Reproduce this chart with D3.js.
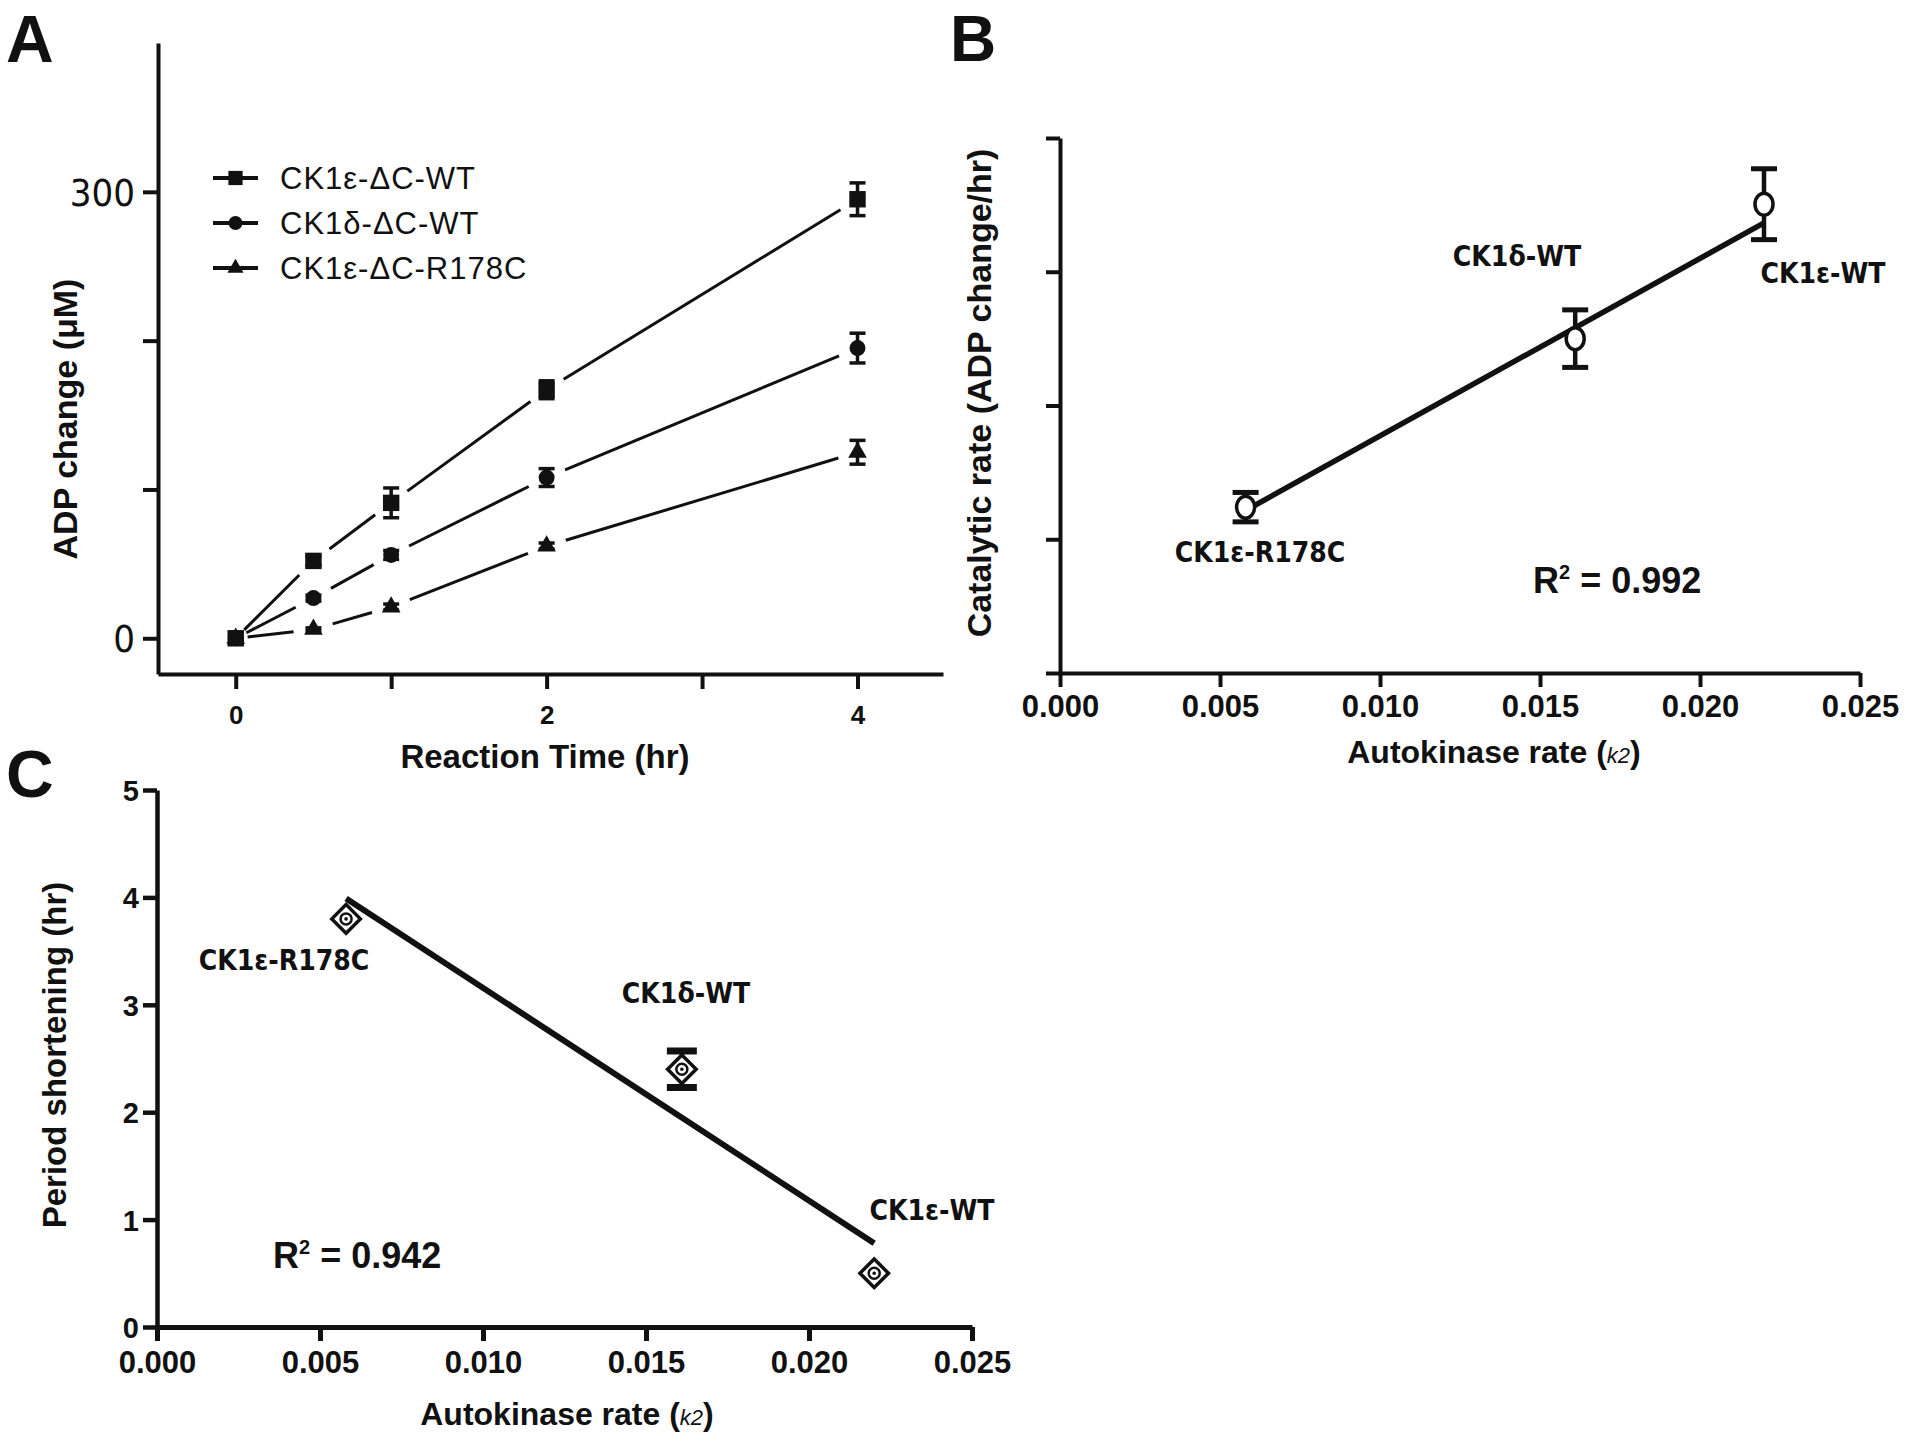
<!DOCTYPE html>
<html><head><meta charset="utf-8">
<script src="https://cdn.jsdelivr.net/npm/d3@7"></script>
<style>
html,body{margin:0;padding:0;background:#fff;}
svg{display:block;}
text{font-family:"Liberation Sans",Arial,sans-serif;fill:#111;}
.narrow{font-family:"Liberation Sans Narrow","Arial Narrow","DejaVu Sans Condensed",sans-serif;}
</style></head>
<body>
<script>
// ---------- Panel A data ----------
const timeA = [0, 0.5, 1, 2, 4];
const seriesNamesA = ["CK1ε-ΔC-WT", "CK1δ-ΔC-WT", "CK1ε-ΔC-R178C"];
const epsWT = [0, 52, 91, 167, 295];
const epsWTerr = [0, 3, 10, 6, 11];
const deltaWT = [0, 27, 56, 108, 195];
const deltaWTerr = [0, 2, 3, 6, 10];
const r178c = [0, 6, 21, 62, 125];
const r178cErr = [0, 1, 2, 2, 8];
const yTicksA = [0, 100, 200, 300];
const yLabelsA = [0, 300];
const xTicksA = [0, 1, 2, 3, 4];
const xLabelsA = [0, 2, 4];

// ---------- Panel B / C data ----------
const mutants = ["CK1ε-R178C", "CK1δ-WT", "CK1ε-WT"];
const autokinase = [0.0058, 0.0161, 0.0220];
const catRate = [24.8, 50.0, 70.1];
const catRateErr = [2.2, 4.3, 5.3];
const fitB = [[0.0058, 24.3], [0.0220, 67.3]];
const periodShort = [3.80, 2.40, 0.50];
const periodErr = [0.03, 0.17, 0.03];
const fitC = [[0.0058, 3.99], [0.0220, 0.78]];
const xTicksBC = [0, 0.005, 0.010, 0.015, 0.020, 0.025];
const yTicksB = [0, 20, 40, 60, 80];
const yTicksC = [0, 1, 2, 3, 4, 5];

const W = 1920, H = 1437;
const svg = d3.select("body").append("svg").attr("width", W).attr("height", H);

function styleAxis(g, sw) {
  g.selectAll(".domain").attr("stroke", "#111").attr("stroke-width", sw);
  g.selectAll(".tick line").attr("stroke", "#111").attr("stroke-width", sw);
}

// ================= Panel A =================
const xA = d3.scaleLinear().domain([-0.5, 4.55]).range([158, 943]);
const yA = d3.scaleLinear().domain([-24, 400]).range([674, 43]);
const gA = svg.append("g");

const axA_y = gA.append("g").attr("transform", `translate(${xA.range()[0]},0)`)
  .call(d3.axisLeft(yA).tickValues(yTicksA).tickSize(15).tickSizeOuter(0)
    .tickFormat(d => yLabelsA.includes(d) ? d : ""));
styleAxis(axA_y, 4);
axA_y.selectAll(".tick text").attr("class", "narrow").attr("font-size", 38)
  .attr("fill", "#222").attr("x", -23).attr("dy", "0.36em");

const axA_x = gA.append("g").attr("transform", `translate(0,${yA.range()[0]})`)
  .call(d3.axisBottom(xA).tickValues(xTicksA).tickSize(15).tickSizeOuter(0)
    .tickFormat(d => xLabelsA.includes(d) ? d : ""));
styleAxis(axA_x, 4);
axA_x.selectAll(".tick text").attr("font-size", 26).attr("font-weight", "bold").attr("y", 32);

const seriesA = [
  {vals: epsWT, err: epsWTerr, sym: d3.symbolSquare, size: 270},
  {vals: deltaWT, err: deltaWTerr, sym: d3.symbolCircle, size: 200},
  {vals: r178c, err: r178cErr, sym: d3.symbolTriangle, size: 150}
];
const gap = 20;
seriesA.forEach(s => {
  const pts = timeA.map((t, i) => [xA(t), yA(s.vals[i])]);
  for (let i = 0; i < pts.length - 1; i++) {
    const [x1, y1] = pts[i], [x2, y2] = pts[i + 1];
    const L = Math.hypot(x2 - x1, y2 - y1), ux = (x2 - x1) / L, uy = (y2 - y1) / L;
    const g0 = i === 0 ? 12 : gap;
    gA.append("line").attr("x1", x1 + ux * g0).attr("y1", y1 + uy * g0)
      .attr("x2", x2 - ux * gap).attr("y2", y2 - uy * gap)
      .attr("stroke", "#111").attr("stroke-width", 3);
  }
  timeA.forEach((t, i) => {
    if (s.err[i] > 0) {
      const cx = xA(t), top = yA(s.vals[i] + s.err[i]), bot = yA(s.vals[i] - s.err[i]);
      gA.append("line").attr("x1", cx).attr("x2", cx).attr("y1", top).attr("y2", bot)
        .attr("stroke", "#111").attr("stroke-width", 3.5);
      [top, bot].forEach(yy => gA.append("line").attr("x1", cx - 8).attr("x2", cx + 8)
        .attr("y1", yy).attr("y2", yy).attr("stroke", "#111").attr("stroke-width", 3.5));
    }
    gA.append("path").attr("d", d3.symbol().type(s.sym).size(s.size)())
      .attr("transform", `translate(${xA(t)},${yA(s.vals[i])})`).attr("fill", "#111");
  });
});

// legend
const legA = gA.append("g");
seriesA.forEach((s, i) => {
  const ly = 178 + i * 45;
  legA.append("line").attr("x1", 213).attr("x2", 258).attr("y1", ly).attr("y2", ly)
    .attr("stroke", "#111").attr("stroke-width", 4);
  legA.append("path").attr("d", d3.symbol().type(s.sym).size(s.size * 0.75)())
    .attr("transform", `translate(235.5,${ly})`).attr("fill", "#111");
  legA.append("text").attr("x", 280).attr("y", ly + 11).attr("font-size", 31)
    .attr("fill", "#333").attr("letter-spacing", 1).text(seriesNamesA[i]);
});

gA.append("text").attr("transform", "translate(77,419) rotate(-90)").attr("text-anchor", "middle")
  .attr("font-size", 34).attr("font-weight", "bold").text("ADP change (μM)");
gA.append("text").attr("x", 545).attr("y", 768).attr("text-anchor", "middle")
  .attr("font-size", 33).attr("font-weight", "bold").attr("fill", "#222").text("Reaction Time (hr)");
svg.append("text").attr("x", 6).attr("y", 62).attr("font-size", 66).attr("font-weight", "bold").text("A");

// ================= Panel B =================
const xB = d3.scaleLinear().domain([0, 0.025]).range([1060, 1860]);
const yB = d3.scaleLinear().domain([0, 80]).range([673, 138]);
const gB = svg.append("g");
const axB_y = gB.append("g").attr("transform", `translate(${xB.range()[0]},0)`)
  .call(d3.axisLeft(yB).tickValues(yTicksB).tickSize(14).tickSizeOuter(0).tickFormat(""));
styleAxis(axB_y, 4);
const axB_x = gB.append("g").attr("transform", `translate(0,${yB.range()[0]})`)
  .call(d3.axisBottom(xB).tickValues(xTicksBC).tickSize(14).tickSizeOuter(0).tickFormat(d3.format(".3f")));
styleAxis(axB_x, 4);
axB_x.selectAll(".tick text").attr("font-size", 31).attr("font-weight", "bold").attr("y", 22).attr("dy", "0.71em");

gB.append("line").attr("x1", xB(fitB[0][0])).attr("y1", yB(fitB[0][1]))
  .attr("x2", xB(fitB[1][0])).attr("y2", yB(fitB[1][1])).attr("stroke", "#111").attr("stroke-width", 5.5);
autokinase.forEach((k, i) => {
  const cx = xB(k), top = yB(catRate[i] + catRateErr[i]), bot = yB(catRate[i] - catRateErr[i]);
  gB.append("line").attr("x1", cx).attr("x2", cx).attr("y1", top).attr("y2", bot)
    .attr("stroke", "#111").attr("stroke-width", 4.5);
  [top, bot].forEach(yy => gB.append("line").attr("x1", cx - 13).attr("x2", cx + 13)
    .attr("y1", yy).attr("y2", yy).attr("stroke", "#111").attr("stroke-width", 5));
  gB.append("ellipse").attr("cx", cx).attr("cy", yB(catRate[i])).attr("rx", 9).attr("ry", 11)
    .attr("fill", "#fff").attr("stroke", "#111").attr("stroke-width", 3.5);
});
const labB = [[1517, 266], [1260, 562], [1823, 283]]; // label anchor positions (pixel)
const labBorder = [1, 0, 2];
labBorder.forEach((mi, j) => {
  gB.append("text").attr("class", "narrow").attr("x", labB[j][0]).attr("y", labB[j][1])
    .attr("text-anchor", "middle").attr("font-size", 28).attr("font-weight", "bold").attr("fill", "#1a1a1a")
    .text(mutants[mi]);
});
const r2B = gB.append("text").attr("x", 1533).attr("y", 593).attr("font-size", 36).attr("font-weight", "bold").attr("fill", "#222");
r2B.append("tspan").text("R");
r2B.append("tspan").attr("font-size", 20).attr("dy", -14).text("2");
r2B.append("tspan").attr("dy", 14).text(" = 0.992");

gB.append("text").attr("transform", "translate(991,393) rotate(-90)").attr("text-anchor", "middle")
  .attr("font-size", 34).attr("font-weight", "bold").text("Catalytic rate (ADP change/hr)");
function akTitle(g, x, y) {
  const t = g.append("text").attr("x", x).attr("y", y).attr("text-anchor", "middle")
    .attr("font-size", 32).attr("font-weight", "bold").attr("fill", "#222");
  t.append("tspan").text("Autokinase rate (");
  t.append("tspan").attr("font-style", "italic").attr("font-weight", "normal").attr("font-size", 22).text("k");
  t.append("tspan").attr("font-style", "italic").attr("font-weight", "normal").attr("font-size", 22).text("2");
  t.append("tspan").text(")");
}
akTitle(gB, 1494, 763);
svg.append("text").attr("x", 950).attr("y", 61).attr("font-size", 64).attr("font-weight", "bold").text("B");

// ================= Panel C =================
const xC = d3.scaleLinear().domain([0, 0.025]).range([157, 972]);
const yC = d3.scaleLinear().domain([0, 5]).range([1327, 790]);
const gC = svg.append("g");
const axC_y = gC.append("g").attr("transform", `translate(${xC.range()[0]},0)`)
  .call(d3.axisLeft(yC).tickValues(yTicksC).tickSize(14).tickSizeOuter(0).tickFormat(d3.format("d")));
styleAxis(axC_y, 4.5);
axC_y.selectAll(".tick text").attr("font-size", 29).attr("font-weight", "bold").attr("x", -18).attr("dy", "0.36em");
const axC_x = gC.append("g").attr("transform", `translate(0,${yC.range()[0]})`)
  .call(d3.axisBottom(xC).tickValues(xTicksBC).tickSize(14).tickSizeOuter(0).tickFormat(d3.format(".3f")));
styleAxis(axC_x, 5);
axC_x.selectAll(".tick text").attr("font-size", 31).attr("font-weight", "bold").attr("y", 24).attr("dy", "0.71em");

gC.append("line").attr("x1", xC(fitC[0][0])).attr("y1", yC(fitC[0][1]))
  .attr("x2", xC(fitC[1][0])).attr("y2", yC(fitC[1][1])).attr("stroke", "#111").attr("stroke-width", 6);
autokinase.forEach((k, i) => {
  const cx = xC(k), cy = yC(periodShort[i]);
  if (periodErr[i] > 0.05) {
    const top = yC(periodShort[i] + periodErr[i]), bot = yC(periodShort[i] - periodErr[i]);
    gC.append("line").attr("x1", cx).attr("x2", cx).attr("y1", top).attr("y2", bot)
      .attr("stroke", "#111").attr("stroke-width", 4.5);
    [top, bot].forEach(yy => gC.append("line").attr("x1", cx - 15).attr("x2", cx + 15)
      .attr("y1", yy).attr("y2", yy).attr("stroke", "#111").attr("stroke-width", 7));
  }
  gC.append("path").attr("d", d3.symbol().type(d3.symbolDiamond2).size(520)())
    .attr("transform", `translate(${cx},${cy})`).attr("fill", "#fff").attr("stroke", "#111").attr("stroke-width", 3.5);
  gC.append("circle").attr("cx", cx).attr("cy", cy).attr("r", 5.5).attr("fill", "none")
    .attr("stroke", "#111").attr("stroke-width", 2.5);
  gC.append("circle").attr("cx", cx).attr("cy", cy).attr("r", 1.8).attr("fill", "#111");
});
const labC = [[284, 970], [686, 1003], [932, 1220]];
labC.forEach((p, i) => {
  gC.append("text").attr("class", "narrow").attr("x", p[0]).attr("y", p[1])
    .attr("text-anchor", "middle").attr("font-size", 28).attr("font-weight", "bold").attr("fill", "#1a1a1a")
    .text(mutants[i]);
});
const r2C = gC.append("text").attr("x", 273).attr("y", 1268).attr("font-size", 36).attr("font-weight", "bold").attr("fill", "#222");
r2C.append("tspan").text("R");
r2C.append("tspan").attr("font-size", 20).attr("dy", -14).text("2");
r2C.append("tspan").attr("dy", 14).text(" = 0.942");

gC.append("text").attr("transform", "translate(66,1055) rotate(-90)").attr("text-anchor", "middle")
  .attr("font-size", 33).attr("font-weight", "bold").text("Period shortening (hr)");
akTitle(gC, 567, 1425);
svg.append("text").attr("x", 6).attr("y", 797).attr("font-size", 66).attr("font-weight", "bold").text("C");
</script>
</body></html>
